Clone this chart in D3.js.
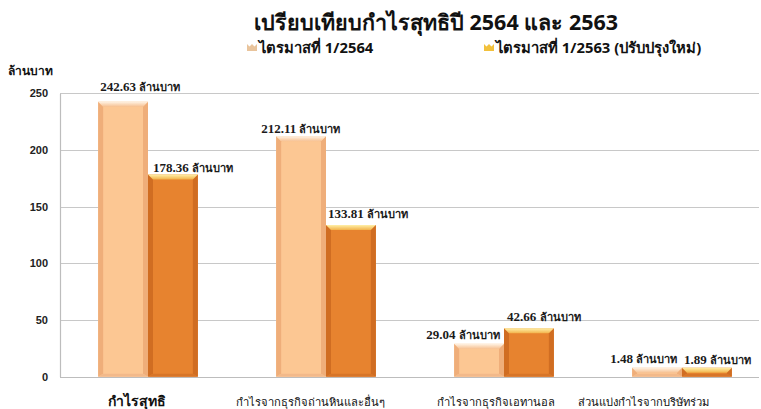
<!DOCTYPE html>
<html>
<head>
<meta charset="utf-8">
<script src="https://cdn.jsdelivr.net/npm/d3@7"></script>
<style>
  body { margin: 0; background: #fff; }
  svg { display: block; font-family: "Noto Sans", "DejaVu Sans", sans-serif; }
</style>
</head>
<body>
<script>
  var width = 761;
  var height = 409;

  // data
  var categories = ["กำไรสุทธิ", "กำไรจากธุรกิจถ่านหินและอื่นๆ", "กำไรจากธุรกิจเอทานอล", "ส่วนแบ่งกำไรจากบริษัทร่วม"];
  var seriesNames = ["ไตรมาสที่ 1/2564", "ไตรมาสที่ 1/2563 (ปรับปรุงใหม่)"];
  var q1_2564 = [242.63, 212.11, 29.04, 1.48];
  var q1_2563 = [178.36, 133.81, 42.66, 1.89];
  var yTicks = [0, 50, 100, 150, 200, 250];
  var unit = "ล้านบาท";

  // label nudges (layout only): [dx from bar left, dy from bar top]
  var nudge2564 = [[2, -11], [-15, -3], [-28, -5], [-22, -5]];
  var nudge2563 = [[5, -3], [2, -7], [3, -7], [2, -4]];
  var catNudge = [-11, -16, -8, -39];

  var svg = d3.select("body").append("svg")
    .attr("width", width)
    .attr("height", height);

  var x0 = d3.scaleBand()
    .domain(categories)
    .range([59, 771])
    .paddingInner(0.44)
    .paddingOuter(0.22);

  var x1 = d3.scaleBand()
    .domain([0, 1])
    .range([0, x0.bandwidth()]);

  var y = d3.scaleLinear()
    .domain([0, 250])
    .range([376.7, 93.3]);

  // title
  svg.append("text")
    .attr("x", 436).attr("y", 30)
    .attr("text-anchor", "middle")
    .attr("font-size", 21.5).attr("font-weight", "bold")
    .attr("fill", "#111")
    .text("เปรียบเทียบกำไรสุทธิปี 2564 และ 2563");

  // legend
  var legendX = [247, 484];
  var legendColors = ["#E9C49C", "#F2C13C"];
  seriesNames.forEach(function(name, i){
    var lx = legendX[i];
    svg.append("path")
      .attr("d", "M" + lx + ",44 l2.5,2.5 l2.5,-2.5 l2.5,2.5 l2.5,-2.5 v7 h-10 z")
      .attr("fill", legendColors[i]);
    svg.append("text")
      .attr("x", lx + 12).attr("y", 53)
      .attr("font-size", 14.8).attr("font-weight", "bold")
      .attr("fill", "#111")
      .text(name);
  });

  // y unit
  svg.append("text")
    .attr("x", 8).attr("y", 75)
    .attr("font-size", 12).attr("font-weight", "bold")
    .attr("fill", "#111")
    .text(unit);

  // gridlines
  svg.append("g").selectAll("line")
    .data(yTicks)
    .enter().append("line")
    .attr("x1", 60).attr("x2", 759)
    .attr("y1", function(d){ return Math.round(y(d)) + 0.5; })
    .attr("y2", function(d){ return Math.round(y(d)) + 0.5; })
    .attr("stroke", function(d){ return d === 0 ? "#bdbdbd" : "#c8c8c8"; })
    .attr("stroke-width", 1.2);

  // y axis
  var yAxis = d3.axisLeft(y).tickValues(yTicks).tickSize(0).tickPadding(12);
  var gy = svg.append("g").attr("transform", "translate(60,0)").call(yAxis);
  gy.select(".domain").attr("stroke", "#bdbdbd").attr("stroke-width", 1.2);
  gy.selectAll("text")
    .attr("font-size", 11).attr("font-weight", "bold")
    .attr("font-family", "Liberation Sans, Arial, sans-serif")
    .attr("fill", "#222");

  // gradients
  var defs = svg.append("defs");
  function grad(id, stops){
    var g = defs.append("linearGradient").attr("id", id)
      .attr("x1", 0).attr("y1", 0).attr("x2", 0).attr("y2", 1);
    stops.forEach(function(s){
      g.append("stop").attr("offset", s[0]).attr("stop-color", s[1]);
    });
  }
  grad("capLight", [["0%", "#fff3e4"], ["100%", "#f6c193"]]);
  grad("capDark", [["0%", "#fff0a8"], ["100%", "#f2b24a"]]);

  var styles = [
    {fill: "#fcc793", side: "#efae7a", cap: "url(#capLight)", base: "#f2b98a"},
    {fill: "#e7832f", side: "#d06d22", cap: "url(#capDark)", base: "#d77528"}
  ];

  var rows = categories.map(function(c, i){
    return [
      {cat: c, s: 0, v: q1_2564[i], i: i},
      {cat: c, s: 1, v: q1_2563[i], i: i}
    ];
  });

  var bars = svg.append("g").selectAll("g")
    .data(d3.merge(rows))
    .enter().append("g")
    .attr("transform", function(d){ return "translate(" + (x0(d.cat) + x1(d.s)) + ",0)"; });

  var bw = x1.bandwidth();
  var bevel = 5;
  var minH = 9;

  bars.each(function(d){
    var g = d3.select(this);
    var st = styles[d.s];
    var top = Math.min(y(d.v), y(0) - minH);
    var bottom = y(0);
    // body
    g.append("rect")
      .attr("x", 0).attr("y", top)
      .attr("width", bw).attr("height", bottom - top)
      .attr("fill", st.fill);
    // side bevels
    g.append("path")
      .attr("d", "M0," + top + " L" + bevel + "," + (top + bevel) + " L" + bevel + "," + (bottom - 3) + " L0," + bottom + " Z")
      .attr("fill", st.side);
    g.append("path")
      .attr("d", "M" + bw + "," + top + " L" + (bw - bevel) + "," + (top + bevel) + " L" + (bw - bevel) + "," + (bottom - 3) + " L" + bw + "," + bottom + " Z")
      .attr("fill", st.side);
    // top cap
    g.append("path")
      .attr("d", "M0," + top + " L" + bw + "," + top + " L" + (bw - bevel) + "," + (top + bevel) + " L" + bevel + "," + (top + bevel) + " Z")
      .attr("fill", st.cap);
    // base
    g.append("path")
      .attr("d", "M0," + bottom + " L" + bevel + "," + (bottom - 3) + " L" + (bw - bevel) + "," + (bottom - 3) + " L" + bw + "," + bottom + " Z")
      .attr("fill", st.base);
  });

  // value labels
  var labels = svg.append("g").selectAll("text")
    .data(d3.merge(rows))
    .enter().append("text")
    .attr("x", function(d){
      var n = d.s === 0 ? nudge2564[d.i] : nudge2563[d.i];
      return x0(d.cat) + x1(d.s) + n[0];
    })
    .attr("y", function(d){
      var n = d.s === 0 ? nudge2564[d.i] : nudge2563[d.i];
      return Math.min(y(d.v), y(0) - minH) + n[1];
    })
    .attr("fill", "#1a1a1a");
  labels.append("tspan")
    .attr("font-family", "Liberation Serif, DejaVu Serif, serif")
    .attr("font-size", 13).attr("font-weight", "bold")
    .text(function(d){ return d3.format(".2f")(d.v) + " "; });
  labels.append("tspan")
    .attr("font-size", 11).attr("font-weight", "bold")
    .text(unit);

  // category labels
  svg.append("g").selectAll("text")
    .data(categories)
    .enter().append("text")
    .attr("x", function(d, i){ return x0(d) + x0.bandwidth() / 2 + catNudge[i]; })
    .attr("y", 406)
    .attr("text-anchor", "middle")
    .attr("font-size", function(d, i){ return i === 0 ? 14 : 11.2; })
    .attr("font-weight", function(d, i){ return i === 0 ? "bold" : "500"; })
    .attr("fill", "#111")
    .text(function(d){ return d; });
</script>
</body>
</html>
